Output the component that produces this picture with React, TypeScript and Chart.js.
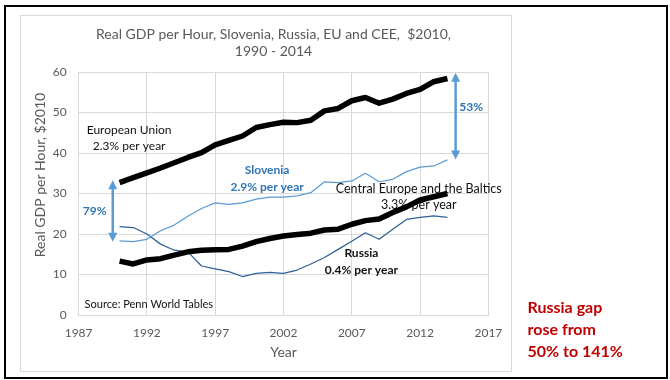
import { useEffect, useRef } from "react";
import { Chart, registerables } from "chart.js";

Chart.register(...registerables);

// Real GDP per hour worked, $2010
const years = [
  1990, 1991, 1992, 1993, 1994, 1995, 1996, 1997, 1998, 1999, 2000, 2001, 2002,
  2003, 2004, 2005, 2006, 2007, 2008, 2009, 2010, 2011, 2012, 2013, 2014,
];
const europeanUnion = [
  32.7, 33.9, 35.1, 36.3, 37.6, 38.9, 40.1, 42.0, 43.1, 44.2, 46.3, 47.0, 47.6,
  47.5, 48.1, 50.4, 51.0, 52.9, 53.7, 52.3, 53.3, 54.7, 55.7, 57.6, 58.4,
];
const slovenia = [
  18.3, 18.1, 18.7, 20.8, 22.2, 24.4, 26.3, 27.7, 27.3, 27.7, 28.6, 29.1, 29.1,
  29.4, 30.2, 32.9, 32.7, 33.1, 35.0, 32.9, 33.5, 35.4, 36.5, 36.8, 38.3,
];
const centralEurope = [
  13.3, 12.6, 13.6, 13.9, 14.8, 15.6, 16.0, 16.1, 16.2, 17.0, 18.1, 18.9, 19.5,
  19.9, 20.2, 21.0, 21.2, 22.4, 23.3, 23.7, 25.3, 26.7, 28.4, 29.2, 30.0,
];
const russia = [
  21.8, 21.6, 20.0, 17.5, 16.0, 15.6, 12.1, 11.4, 10.7, 9.5, 10.3, 10.5, 10.3,
  11.1, 12.6, 14.2, 16.2, 18.2, 20.3, 18.7, 21.2, 23.6, 24.1, 24.5, 24.1,
];

// Gap between the EU and Slovenia at each end of the period
const gapYears = [1989.5, 2014.6];
const gapLow = [18.1, 38.4];
const gapHigh = [33.3, 59.8];
const gapLabels = ["79%", "53%"];

const titleLines = ["Real GDP per Hour, Slovenia, Russia, EU and CEE,  $2010,", "1990 - 2014"];
const sideNote = ["Russia gap", "rose from", "50% to 141%"];

const FONT = "Lato, 'Open Sans', sans-serif";
const GREY = "#595959";
const BLUE_TEXT = "#2E75B6";
const BLUE_ARROW = "#5B9BD5";

type Note = {
  lines: string[];
  year: number;
  value: number;
  color: string;
  bold?: boolean;
  size: number;
  align?: CanvasTextAlign;
  lineGap: number;
};

// Series captions, anchored in data coordinates
const notes: Note[] = [
  { lines: ["European Union", "2.3% per year"], year: 1990.7, value: 45.7, color: "#111", size: 12, lineGap: 16 },
  { lines: ["Slovenia", "2.9% per year"], year: 2000.8, value: 35.8, color: BLUE_TEXT, bold: true, size: 12, lineGap: 17 },
  { lines: ["Central Europe and the Baltics", "3.3% per year"], year: 2011.9, value: 31.1, color: "#111", size: 12.5, lineGap: 16 },
  { lines: ["Russia", "0.4% per year"], year: 2007.7, value: 15.3, color: "#111", bold: true, size: 12, lineGap: 17 },
  { lines: ["Source: Penn World Tables"], year: 1987.44, value: 2.7, color: "#111", size: 11, align: "left", lineGap: 0 },
];

function drawArrow(ctx: CanvasRenderingContext2D, x: number, yTop: number, yBottom: number) {
  const head = 9;
  const half = 4.5;
  ctx.save();
  ctx.strokeStyle = BLUE_ARROW;
  ctx.fillStyle = BLUE_ARROW;
  ctx.lineWidth = 2.5;
  ctx.beginPath();
  ctx.moveTo(x, yTop + head - 1);
  ctx.lineTo(x, yBottom - head + 1);
  ctx.stroke();
  ctx.beginPath();
  ctx.moveTo(x, yTop);
  ctx.lineTo(x - half, yTop + head);
  ctx.lineTo(x + half, yTop + head);
  ctx.closePath();
  ctx.fill();
  ctx.beginPath();
  ctx.moveTo(x, yBottom);
  ctx.lineTo(x - half, yBottom - head);
  ctx.lineTo(x + half, yBottom - head);
  ctx.closePath();
  ctx.fill();
  ctx.restore();
}

const decorations = {
  id: "decorations",
  beforeDraw(chart: Chart) {
    const { ctx } = chart;
    ctx.save();
    ctx.fillStyle = "#fff";
    ctx.fillRect(0, 0, chart.width, chart.height);
    // light chart frame
    ctx.strokeStyle = "#D9D9D9";
    ctx.lineWidth = 1;
    ctx.strokeRect(20.5, 15.5, 491, 356);
    // outer black frame
    ctx.strokeStyle = "#000";
    ctx.lineWidth = 2;
    ctx.strokeRect(5, 6, 662, 372);
    ctx.restore();
  },
  beforeDatasetsDraw(chart: Chart) {
    const { ctx } = chart;
    const x = chart.scales.x;
    const y = chart.scales.y;
    ctx.save();
    ctx.textBaseline = "middle";

    // title
    ctx.fillStyle = GREY;
    ctx.textAlign = "center";
    ctx.font = `14px ${FONT}`;
    titleLines.forEach((t, i) => ctx.fillText(t, 273.5, 34 + i * 17));

    // axis titles
    ctx.font = `14px ${FONT}`;
    ctx.fillText("Year", (x.left + x.right) / 2, 352);
    ctx.save();
    ctx.translate(40.5, 175);
    ctx.rotate(-Math.PI / 2);
    ctx.fillText("Real GDP per Hour, $2010", 0, 0);
    ctx.restore();

    // series captions
    notes.forEach((n) => {
      ctx.fillStyle = n.color;
      ctx.textAlign = n.align ?? "center";
      ctx.font = `${n.bold ? "bold " : ""}${n.size}px ${FONT}`;
      const px = x.getPixelForValue(n.year);
      const py = y.getPixelForValue(n.value);
      n.lines.forEach((t, i) => ctx.fillText(t, px, py + i * n.lineGap));
    });

    // side note
    ctx.fillStyle = "#C00000";
    ctx.textAlign = "left";
    ctx.font = `bold 16px ${FONT}`;
    sideNote.forEach((t, i) => ctx.fillText(t, 527.5, 308 + i * 22));
    ctx.restore();
  },
  afterDatasetsDraw(chart: Chart) {
    const { ctx } = chart;
    const x = chart.scales.x;
    const y = chart.scales.y;
    ctx.save();
    gapYears.forEach((yr, i) => {
      const px = x.getPixelForValue(yr);
      drawArrow(ctx, px, y.getPixelForValue(gapHigh[i]), y.getPixelForValue(gapLow[i]));
    });
    ctx.fillStyle = BLUE_TEXT;
    ctx.font = `bold 12px ${FONT}`;
    ctx.textAlign = "center";
    ctx.textBaseline = "middle";
    ctx.fillText(gapLabels[0], x.getPixelForValue(gapYears[0]) - 18, y.getPixelForValue(25.7));
    ctx.fillText(gapLabels[1], x.getPixelForValue(gapYears[1]) + 15.5, y.getPixelForValue(51.4));
    ctx.restore();
  },
};

function series(values: number[]) {
  return values.map((v, i) => ({ x: years[i], y: v }));
}

export default function App() {
  const canvasRef = useRef<HTMLCanvasElement | null>(null);

  useEffect(() => {
    const canvas = canvasRef.current;
    if (!canvas) return;
    const tickFont = { family: FONT, size: 12 };
    const chart = new Chart(canvas, {
      type: "line",
      data: {
        datasets: [
          { label: "European Union", data: series(europeanUnion), borderColor: "#000", borderWidth: 5.5 },
          { label: "Slovenia", data: series(slovenia), borderColor: BLUE_ARROW, borderWidth: 1.25 },
          { label: "Central Europe and the Baltics", data: series(centralEurope), borderColor: "#000", borderWidth: 5.5 },
          { label: "Russia", data: series(russia), borderColor: "#2E6096", borderWidth: 1.25 },
        ],
      },
      options: {
        animation: false,
        responsive: false,
        devicePixelRatio: 1,
        layout: { padding: { left: 0, top: 72, right: 181.6, bottom: 0 } },
        elements: {
          point: { radius: 0, hoverRadius: 0 },
          line: { tension: 0, borderCapStyle: "butt", borderJoinStyle: "round" },
        },
        plugins: {
          legend: { display: false },
          title: { display: false },
          tooltip: { enabled: false },
        },
        scales: {
          x: {
            type: "linear",
            min: 1987,
            max: 2017,
            ticks: { stepSize: 5, padding: 11, color: GREY, font: tickFont, callback: (v) => String(v) },
            grid: { color: "#D9D9D9", drawTicks: false },
            border: { color: "#D9D9D9" },
            afterFit: (s) => {
              s.height = 65;
            },
          },
          y: {
            type: "linear",
            min: 0,
            max: 60,
            ticks: { stepSize: 10, padding: 12, color: GREY, font: tickFont },
            grid: { color: "#D9D9D9", drawTicks: false },
            border: { color: "#D9D9D9" },
            afterFit: (s) => {
              s.width = 78.6;
            },
          },
        },
      },
      plugins: [decorations],
    });
    return () => chart.destroy();
  }, []);

  return (
    <div style={{ position: "absolute", left: 0, top: 0, width: 670, height: 380, background: "#fff" }}>
      <canvas ref={canvasRef} width={670} height={380} />
    </div>
  );
}
